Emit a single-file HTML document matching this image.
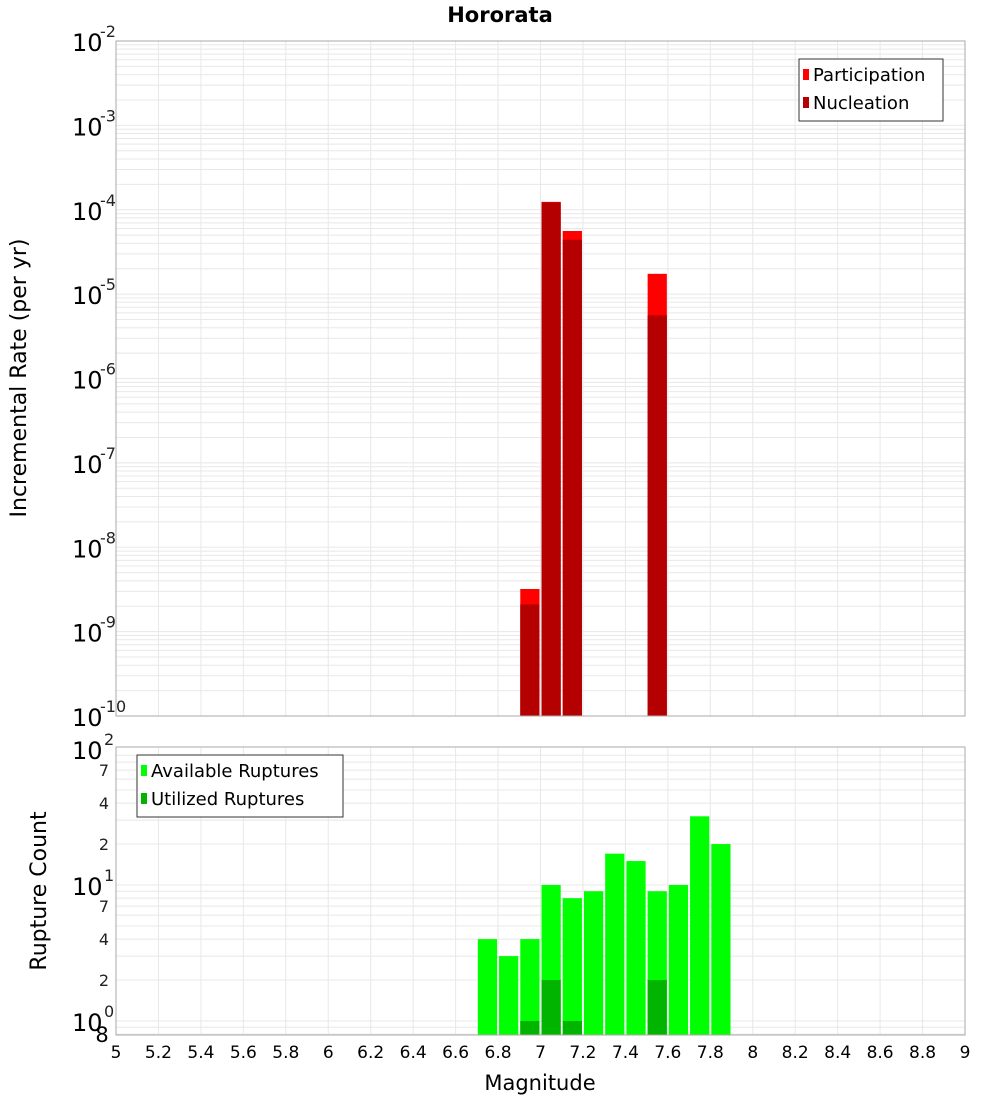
<!DOCTYPE html>
<html><head><meta charset="utf-8"><style>
body{margin:0;background:#fff}
svg{display:block;font-family:"DejaVu Sans","Liberation Sans",sans-serif}
</style></head><body>
<svg id="c" width="1000" height="1100" xmlns="http://www.w3.org/2000/svg">
<text x="500" y="22" text-anchor="middle" font-size="21" font-weight="bold">Hororata</text>
<g id="gtop"></g>
<g id="gbot"></g>
<text transform="translate(26,378) rotate(-90)" text-anchor="middle" font-size="22">Incremental Rate (per yr)</text>
<text transform="translate(46,891) rotate(-90)" text-anchor="middle" font-size="22">Rupture Count</text>
<text x="540" y="1090" text-anchor="middle" font-size="21">Magnitude</text>
</svg>
<script>
const mags=[6.75,6.85,6.95,7.05,7.15,7.25,7.35,7.45,7.55,7.65,7.75,7.85];
const available=[4,3,4,10,8,9,17,15,9,10,32,20];
const utilized=[0,0,1,2,1,0,0,0,2,0,0,0];
const rateMags=[6.95,7.05,7.15,7.55];
const participation=[3.2e-9,1.24e-4,5.6e-5,1.74e-5];
const nucleation=[2.1e-9,1.22e-4,4.4e-5,5.6e-6];
const xTicks=[5,5.2,5.4,5.6,5.8,6,6.2,6.4,6.6,6.8,7,7.2,7.4,7.6,7.8,8,8.2,8.4,8.6,8.8,9];

const NS="http://www.w3.org/2000/svg";
const X0=116,X1=965;
const xs=m=>X0+(m-5)/4*(X1-X0);
const T0=41,T1=716; const yt=v=>T0+(-2-Math.log10(v))*(T1-T0)/8;
const B0=747,B1=1035; const yb=v=>1021-Math.log10(v)*136;
function mk(p,tag,a,txt){const e=document.createElementNS(NS,tag);for(const k in a)e.setAttribute(k,a[k]);if(txt!==undefined)e.textContent=txt;p.appendChild(e);return e;}
const gTop=document.getElementById('gtop'),gBot=document.getElementById('gbot');

function grid(g,yTop,yBot,yf,lo,hi){
  for(let d=lo;d<hi;d++)for(let k=1;k<10;k++){const y=yf(k*Math.pow(10,d));if(y>=yTop&&y<=yBot){
    const l=mk(g,'line',{x1:X0,x2:X1,y1:y,y2:y,stroke:'#e8e8e8','stroke-width':1});
    
    }}
  xTicks.forEach(t=>{const l=mk(g,'line',{x1:xs(t),x2:xs(t),y1:yTop,y2:yBot,stroke:'#e8e8e8','stroke-width':1});
    
    });
}
grid(gTop,T0,T1,yt,-10,-2);
grid(gBot,B0,B1,yb,-1,2);

rateMags.forEach((m,i)=>{
  const x=xs(m-0.05)+1,w=xs(m+0.05)-xs(m-0.05)-2;
  const p=mk(gTop,'rect',{x:x,y:yt(participation[i]),width:w,height:T1-yt(participation[i]),fill:'#ff0000'});
  
  
  const n=mk(gTop,'rect',{x:x,y:yt(nucleation[i]),width:w,height:T1-yt(nucleation[i]),fill:'#b40000'});
  
  
});
mags.forEach((m,i)=>{
  const x=xs(m-0.05)+1,w=xs(m+0.05)-xs(m-0.05)-2;
  const a=mk(gBot,'rect',{x:x,y:yb(available[i]),width:w,height:B1-yb(available[i]),fill:'#00ff00'});
  
  
  if(utilized[i]>0){const u=mk(gBot,'rect',{x:x,y:yb(utilized[i]),width:w,height:B1-yb(utilized[i]),fill:'#00b400'});
  
  }
});
const f1=mk(gTop,'rect',{x:X0,y:T0,width:X1-X0,height:T1-T0,fill:'none',stroke:'#aaa'});


const f2=mk(gBot,'rect',{x:X0,y:B0,width:X1-X0,height:B1-B0,fill:'none',stroke:'#aaa'});



for(let d=-10;d<=-2;d++){
  const y=yt(Math.pow(10,d));
  const t=mk(gTop,'text',{x:72,y:y+10,'font-size':24},'10');
  
  
  const s=mk(gTop,'text',{x:100,y:y-4,'font-size':16,fill:'#222'},String(d));
  
  
}
[0,1,2].forEach(d=>{const y=yb(Math.pow(10,d));
  const t=mk(gBot,'text',{x:72,y:y+10,'font-size':24},'10');
  
  
  const s=mk(gBot,'text',{x:104,y:y-4,'font-size':16,fill:'#222'},String(d));
  
  
});
[2,4,7,20,40,70].forEach(v=>{const t=mk(gBot,'text',{x:104,y:yb(v)+6,'font-size':16,'text-anchor':'middle',fill:'#222'},String(v)[0]);
  
  });
const e8=mk(gBot,'text',{x:102,y:1042,'font-size':21,'text-anchor':'middle'},'8');


xTicks.forEach(t=>{const l=mk(gBot,'text',{x:xs(t),y:1058,'font-size':17,'text-anchor':'middle'},String(t));
  
  });

function legend(g,x,y,w,items,name){
  const r=mk(g,'rect',{x:x,y:y,width:w,height:items.length*28+6,fill:'#fff',stroke:'#333'});
  
  
  items.forEach((it,i)=>{
    const sw=mk(g,'rect',{x:x+4,y:y+10+i*28,width:6,height:11,fill:it[1]});
    
    
    const t=mk(g,'text',{x:x+14,y:y+22+i*28,'font-size':18},it[0]);
    
    
  });
}
legend(gTop,799,59,144,[['Participation','#ff0000'],['Nucleation','#b40000']],'rate-legend');
legend(gBot,137,755,206,[['Available Ruptures','#00ff00'],['Utilized Ruptures','#00b400']],'count-legend');
</script>
</body></html>
